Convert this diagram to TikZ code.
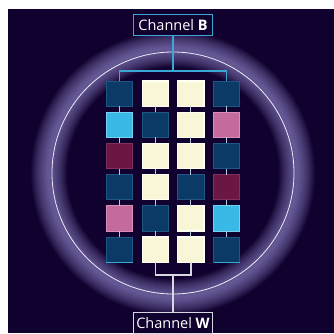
\documentclass[tikz,border=0pt]{standalone}
\usepackage{fontspec}
\setmainfont{Open Sans}
\usepackage{tikz}
\usetikzlibrary{positioning}
\definecolor{bgcolor}{HTML}{10012E}
\definecolor{glowcolor}{HTML}{A69AE0}
\definecolor{navycolor}{HTML}{0B3A66}
\definecolor{navyedge}{HTML}{1E5686}
\definecolor{creamcolor}{HTML}{F9F6D8}
\definecolor{creamedge}{HTML}{FFFFF4}
\definecolor{cyancolor}{HTML}{38B9E6}
\definecolor{cyanedge}{HTML}{72D2F0}
\definecolor{pinkcolor}{HTML}{C46A9C}
\definecolor{pinkedge}{HTML}{DA8EB7}
\definecolor{maroncolor}{HTML}{6A1744}
\definecolor{maronedge}{HTML}{80305A}
\definecolor{chancolor}{HTML}{3AA8D4}
\definecolor{linkcolor}{HTML}{B4CADC}
\definecolor{wcolor}{HTML}{D8D8E2}

\begin{document}
\begin{tikzpicture}[
  x=1pt, y=-1pt,
  node distance=6pt and 9.5pt,
  cell/.style={rectangle, draw, line width=0.8pt, minimum width=26.2pt,
               minimum height=25.2pt, inner sep=0pt, outer sep=0pt},
  navycell/.style={cell, fill=navycolor, draw=navyedge},
  creamcell/.style={cell, fill=creamcolor, draw=creamedge, line width=1.2pt},
  cyancell/.style={cell, fill=cyancolor, draw=cyanedge},
  pinkcell/.style={cell, fill=pinkcolor, draw=pinkedge},
  maroncell/.style={cell, fill=maroncolor, draw=maronedge},
  chan/.style={rectangle, draw, line width=1pt, fill=bgcolor, text=white,
               font=\fontsize{14.5}{16}\selectfont, minimum width=79pt,
               minimum height=21pt, inner sep=2pt, outer sep=0pt},
  bline/.style={draw=chancolor, line width=1.3pt},
  wline/.style={draw=wcolor, line width=1.3pt},
  vlink/.style={draw=linkcolor, line width=0.9pt},
]
\useasboundingbox (0,0) rectangle (334,333);
\fill[white] (0,0) rectangle (334,333);
\fill[bgcolor] (8,9) rectangle (334,333);

\foreach \w in {2,4,...,36}
  \draw[glowcolor, line width=\w pt, opacity=0.05] (173,173) circle[radius=124];
\draw[white!80!glowcolor, line width=0.8pt] (173,173) circle[radius=121];

\node[navycell] (c1r1) at (119.5,93.5) {};
\node[creamcell, right=of c1r1] (c2r1) {};
\node[creamcell, right=of c2r1] (c3r1) {};
\node[navycell,  right=of c3r1] (c4r1) {};

\node[cyancell,  below=of c1r1] (c1r2) {};
\node[navycell,  below=of c2r1] (c2r2) {};
\node[creamcell, below=of c3r1] (c3r2) {};
\node[pinkcell,  below=of c4r1] (c4r2) {};

\node[maroncell, below=of c1r2] (c1r3) {};
\node[creamcell, below=of c2r2] (c2r3) {};
\node[creamcell, below=of c3r2] (c3r3) {};
\node[navycell,  below=of c4r2] (c4r3) {};

\node[navycell,  below=of c1r3] (c1r4) {};
\node[creamcell, below=of c2r3] (c2r4) {};
\node[navycell,  below=of c3r3] (c3r4) {};
\node[maroncell, below=of c4r3] (c4r4) {};

\node[pinkcell,  below=of c1r4] (c1r5) {};
\node[navycell,  below=of c2r4] (c2r5) {};
\node[creamcell, below=of c3r4] (c3r5) {};
\node[cyancell,  below=of c4r4] (c4r5) {};

\node[navycell,  below=of c1r5] (c1r6) {};
\node[creamcell, below=of c2r5] (c2r6) {};
\node[creamcell, below=of c3r5] (c3r6) {};
\node[navycell,  below=of c4r5] (c4r6) {};

\draw[vlink] (c1r1)--(c1r2) (c1r2)--(c1r3) (c1r3)--(c1r4) (c1r4)--(c1r5) (c1r5)--(c1r6);
\draw[vlink] (c2r1)--(c2r2) (c2r2)--(c2r3) (c2r3)--(c2r4) (c2r4)--(c2r5) (c2r5)--(c2r6);
\draw[vlink] (c3r1)--(c3r2) (c3r2)--(c3r3) (c3r3)--(c3r4) (c3r4)--(c3r5) (c3r5)--(c3r6);
\draw[vlink] (c4r1)--(c4r2) (c4r2)--(c4r3) (c4r3)--(c4r4) (c4r4)--(c4r5) (c4r5)--(c4r6);
\draw[bline, line width=1pt] (c1r6.south west) -- (c1r6.south east);
\draw[bline, line width=1pt] (c4r6.south west) -- (c4r6.south east);

\node[chan, draw=chancolor] (chB) at (173,25) {Channel \textbf{B}};
\coordinate (bj) at (173,71);
\draw[bline] (chB) -- (bj);
\draw[bline] (c1r1) |- (bj) -| (c4r1);

\node[chan, draw=wcolor] (chW) at (173,323) {Channel \textbf{W}};
\coordinate (wj) at (173,275);
\draw[wline] (c2r6) |- (wj) -| (c3r6);
\draw[wline] (wj) -- (chW);
\end{tikzpicture}
\end{document}
